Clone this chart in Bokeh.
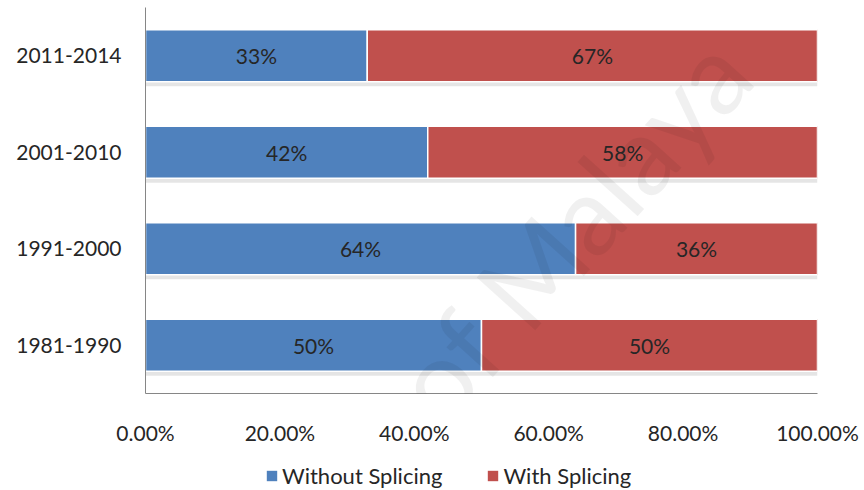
from bokeh.plotting import figure
from bokeh.layouts import column
from bokeh.models import (FactorRange, Range1d, NumeralTickFormatter, FixedTicker,
                          ColumnDataSource, Legend, LegendItem, Label, LabelSet)
from bokeh.core.properties import value
from bokeh.transform import dodge
from bokeh.embed import file_html
from bokeh.resources import INLINE

periods = ["1981-1990", "1991-2000", "2001-2010", "2011-2014"]
without_splicing = [0.50, 0.64, 0.42, 0.33]
with_splicing = [0.50, 0.36, 0.58, 0.67]
series_names = ["Without Splicing", "With Splicing"]
x_ticks = [0, 0.2, 0.4, 0.6, 0.8, 1.0]

BLUE = "#4F81BD"
RED = "#C0504D"
FONT = "Lato"
TXT = "#262626"

src = ColumnDataSource(dict(
    period=periods,
    wo_end=without_splicing,
    w_end=[a + b for a, b in zip(without_splicing, with_splicing)],
    zero=[0] * len(periods),
    wo_mid=[a / 2 for a in without_splicing],
    w_mid=[a + b / 2 for a, b in zip(without_splicing, with_splicing)],
    wo_lbl=[f"{round(v*100)}%" for v in without_splicing],
    w_lbl=[f"{round(v*100)}%" for v in with_splicing],
))

p = figure(width=864, height=460, y_range=FactorRange(*periods), x_range=Range1d(0, 1),
           output_backend="svg", toolbar_location=None,
           min_border_left=145, min_border_right=47, min_border_top=7, min_border_bottom=67)
p.outline_line_color = None
p.background_fill_color = "white"
p.border_fill_color = "white"

# faint watermark
wm = Label(x=0.47, y=-0.55, text="of Malaya", text_font=FONT, text_font_size="110px",
           text_color="#000000", text_alpha=0.06, angle=48, angle_units="deg")
p.add_layout(wm)

# shadows
p.hbar(y=dodge("period", -0.045, range=p.y_range), left="zero", right="w_end", height=0.54,
       source=src, fill_color="#000000", fill_alpha=0.10, line_color=None)

r1 = p.hbar(y="period", left="zero", right="wo_end", height=0.54, source=src,
            fill_color=BLUE, line_color="white", line_width=1.5)
r2 = p.hbar(y="period", left="wo_end", right="w_end", height=0.54, source=src,
            fill_color=RED, line_color="white", line_width=1.5)

for xcol, lcol in (("wo_mid", "wo_lbl"), ("w_mid", "w_lbl")):
    p.add_layout(LabelSet(x=xcol, y="period", text=lcol, source=src,
                          text_align="center", text_baseline="middle",
                          text_font=value(FONT), text_font_size=value("21px"),
                          text_color=TXT))

p.xgrid.grid_line_color = None
p.ygrid.grid_line_color = None

p.xaxis.ticker = FixedTicker(ticks=x_ticks)
p.xaxis.formatter = NumeralTickFormatter(format="0.00%")
for ax in (p.xaxis[0], p.yaxis[0]):
    ax.axis_line_color = "#868686"
    ax.major_tick_line_color = None
    ax.minor_tick_line_color = None
    ax.major_label_text_font = FONT
    ax.major_label_text_font_size = "21px"
    ax.major_label_text_color = TXT
p.xaxis.major_label_standoff = 20
p.yaxis.major_label_standoff = 18

# legend strip
lf = figure(width=864, height=30, output_backend="svg", toolbar_location=None,
            x_range=Range1d(0, 1), y_range=Range1d(0, 1),
            min_border_left=0, min_border_right=0, min_border_top=0, min_border_bottom=0)
lf.axis.visible = False
lf.grid.visible = False
lf.outline_line_color = None
d1 = lf.rect(x=[-10], y=[-10], width=0.01, height=0.01, fill_color=BLUE, line_color=None)
d2 = lf.rect(x=[-10], y=[-10], width=0.01, height=0.01, fill_color=RED, line_color=None)
legend = Legend(items=[LegendItem(label=series_names[0], renderers=[d1]),
                       LegendItem(label=series_names[1], renderers=[d2])],
                orientation="horizontal", location=(120, 1),
                glyph_width=13, glyph_height=13, label_text_font=FONT,
                label_text_font_size="22px", label_text_color=TXT,
                spacing=44, padding=0, margin=0, label_standoff=4,
                border_line_color=None, background_fill_alpha=0)
lf.add_layout(legend, "center")

open("out.html", "w").write(file_html(column(p, lf, spacing=0), INLINE))
